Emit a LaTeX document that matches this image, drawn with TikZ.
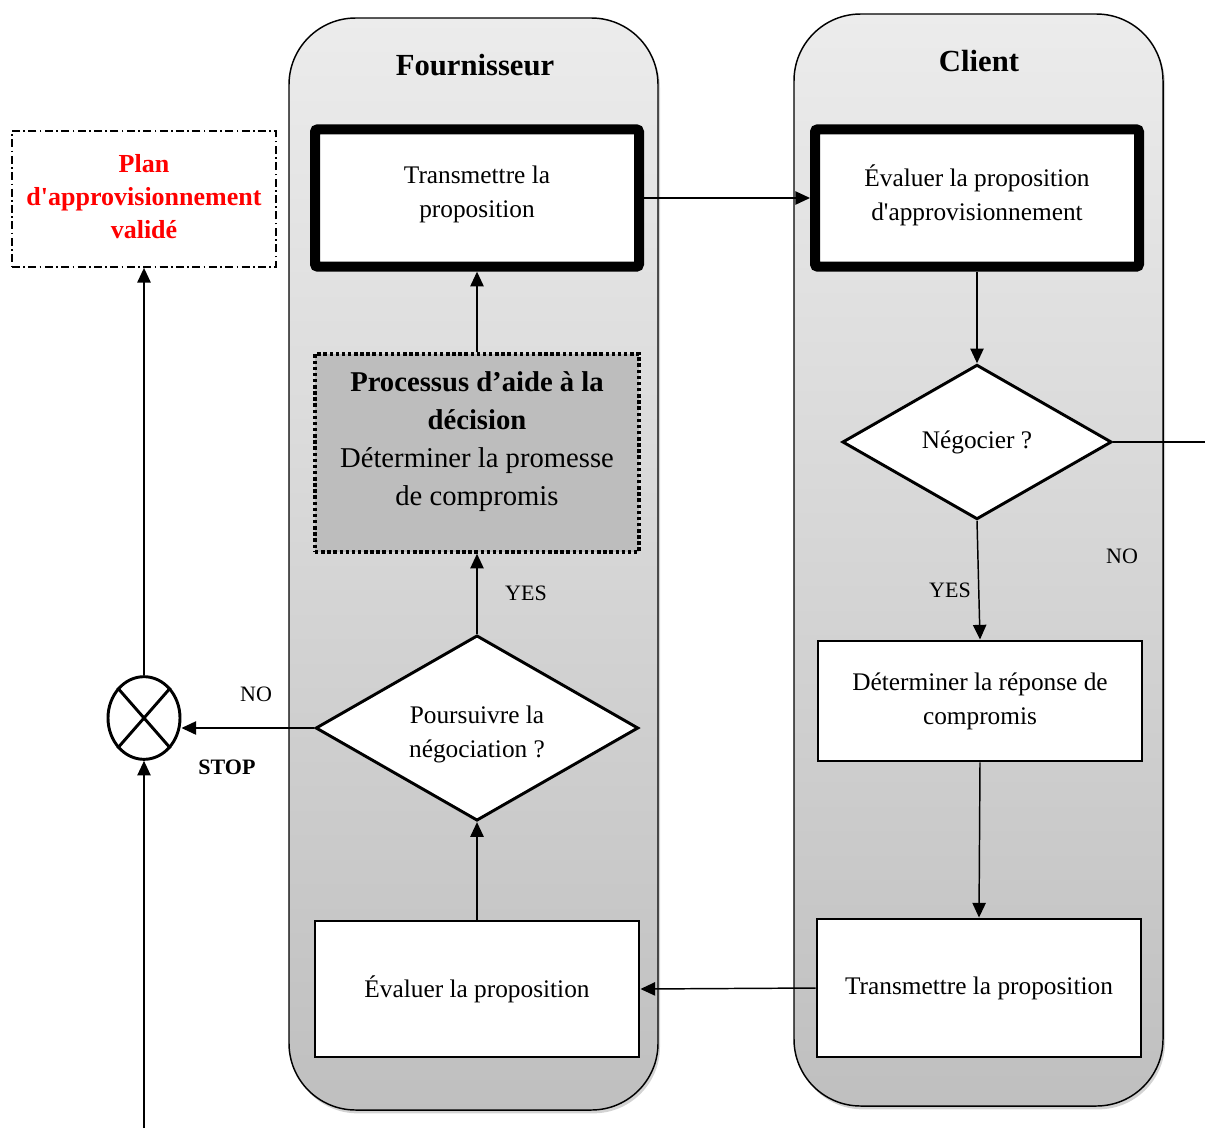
\documentclass[tikz,border=0pt]{standalone}
\usepackage{fontspec}
\setmainfont{Liberation Serif}[Ligatures=TeXOff]
\usetikzlibrary{shapes.geometric,arrows.meta,shadows}
\begin{document}
\begin{tikzpicture}[x=0.75pt,y=-0.75pt,
  lane/.style={draw=black,line width=1.1pt,rounded corners=50pt,top color=gray!15,bottom color=gray!50,
    drop shadow={shadow xshift=1.5pt,shadow yshift=-2.5pt,opacity=0.35}},
  body/.style={font=\fontsize{19}{25.5}\selectfont,align=center},
  thickbox/.style={body,draw=black,fill=white,line width=7.5pt,rounded corners=2pt,minimum width=243pt,minimum height=103pt,inner sep=0pt},
  plainbox/.style={body,draw=black,fill=white,line width=2.2pt,minimum width=243pt,inner sep=0pt},
  decision/.style={body,draw=black,fill=white,line width=2.2pt,diamond,inner sep=0pt},
  lbl/.style={font=\fontsize{16.5}{20}\selectfont},
  conn/.style={line width=1.1pt,-{Triangle[length=11pt,width=10pt]}},
  plainline/.style={line width=1.1pt}]
\useasboundingbox (0,0) rectangle (1205,1128);

% lanes
\path[lane] (289,18) rectangle (658,1110);
\path[lane] (794,14) rectangle (1163,1106);
\node[font=\fontsize{23}{27}\selectfont\bfseries] (tf) at (475,65) {Fournisseur};
\node[font=\fontsize{23}{27}\selectfont\bfseries] (tc) at (979,61) {Client};

% nodes
\node[thickbox] (t1) at (477,198) {Transmettre la\\proposition\\[-16.8pt]\mbox{}};
\node[thickbox] (c1) at (977,198) {Évaluer la proposition\\d'approvisionnement\\[-18pt]\mbox{}};
\node[decision,minimum width=202pt,minimum height=116pt] (neg) at (977,442) {Négocier ?};
\node[plainbox,minimum height=90pt] (det) at (980,701) {Déterminer la réponse de\\compromis};
\node[plainbox,minimum height=103.5pt] (tr2) at (979,988) {Transmettre la proposition};
\node[plainbox,minimum height=102pt] (ev) at (477,989) {Évaluer la proposition};
\node[decision,minimum width=242pt,minimum height=139pt] (pour) at (477,728)
  {\raisebox{-9pt}[0pt][0pt]{\makebox[0pt]{\parbox{180pt}{\centering\fontsize{19}{25.5}\selectfont Poursuivre la\\négociation ?}}}};
\node[draw=black,fill=black!26,line width=2.6pt,dash pattern=on 2.6pt off 2pt,minimum width=243pt,minimum height=148.5pt,
  align=center,font=\fontsize{21.5}{28.5}\selectfont,inner sep=0pt] (proc) at (477,453)
  {\textbf{Processus d’aide à la}\\\textbf{décision}\\Déterminer la promesse\\de compromis\\[-7.5pt]\mbox{}};
\node[draw=black,ellipse,line width=2.2pt,fill=white,minimum width=54pt,minimum height=62pt,inner sep=0pt] (stop) at (144,718) {};
\draw[line width=2.2pt] (stop.north west) -- (stop.south east);
\draw[line width=2.2pt] (stop.north east) -- (stop.south west);
\node[draw=black,line width=1.3pt,dash pattern=on 6pt off 2.5pt on 1.3pt off 2.5pt,minimum width=198pt,minimum height=102pt,
  align=center,text=red,font=\fontsize{19.5}{24.75}\selectfont\bfseries,inner sep=0pt] (plan) at (144,199)
  {Plan\\d'approvisionnement\\validé\\[-20.25pt]\mbox{}};

\coordinate (negout) at (1205,442);
\coordinate (bot) at (144,1128);

% labels
\node[lbl] (no1) at (1122,556) {NO};
\node[lbl] (yes1) at (950,590) {YES};
\node[lbl] (yes2) at (526,593) {YES};
\node[lbl] (no2) at (256,694) {NO};
\node[lbl,font=\fontsize{16.5}{20}\selectfont\bfseries] (stoplbl) at (227,767) {STOP};

% connectors
\draw[conn] (t1.east) -- (c1.west);
\draw[conn] (c1.south) -- (neg.north);
\draw[plainline] (neg.east) -- (negout);
\draw[conn] (neg.south) -- (det.north);
\draw[conn] (det.south) -- (tr2.north);
\draw[conn] (tr2.west) -- (ev.east);
\draw[conn] (ev.north) -- (pour.south);
\draw[conn] (pour.north) -- (proc.south);
\draw[conn] (proc.north) -- (t1.south);
\draw[conn] (pour.west) -- (pour.west -| stop.east);
\draw[conn] (stop.north) -- (plan.south);
\draw[conn] (bot) -- (stop.south);
\end{tikzpicture}
\end{document}
